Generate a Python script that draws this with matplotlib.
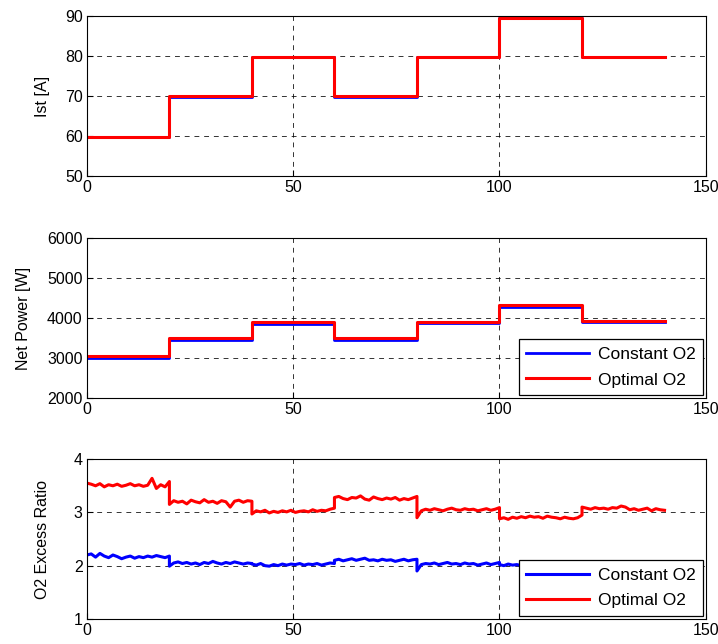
import numpy as np
import matplotlib
matplotlib.use("Agg")
import matplotlib.pyplot as plt

plt.rcParams["font.family"] = ["Liberation Sans", "DejaVu Sans"]

# ── Data ──────────────────────────────────────────────────────────────────
seg_edges = [0, 20, 40, 60, 80, 100, 120, 140]

ist_const = [59.8, 69.8, 79.8, 69.8, 79.8, 89.6, 79.8]
ist_opt = [59.8, 69.9, 79.8, 69.9, 79.8, 89.6, 79.8]

power_const = [3010, 3450, 3860, 3460, 3870, 4270, 3910]
power_opt = [3060, 3490, 3910, 3500, 3910, 4320, 3940]

# O2 excess ratio, ~1 s samples, one list of 20 per 20 s segment
o2_opt_segs = [
    [3.55, 3.53, 3.50, 3.54, 3.48, 3.52, 3.50, 3.53, 3.49, 3.51,
     3.54, 3.50, 3.52, 3.49, 3.51, 3.64, 3.45, 3.52, 3.48, 3.58],
    [3.15, 3.22, 3.19, 3.21, 3.16, 3.23, 3.20, 3.18, 3.24, 3.19,
     3.21, 3.17, 3.22, 3.20, 3.10, 3.21, 3.23, 3.19, 3.22, 3.21],
    [2.97, 3.03, 3.01, 3.04, 2.99, 3.02, 3.00, 3.03, 3.01, 3.04,
     3.00, 3.02, 3.03, 3.01, 3.05, 3.02, 3.04, 3.03, 3.06, 3.08],
    [3.28, 3.30, 3.26, 3.24, 3.28, 3.27, 3.31, 3.25, 3.23, 3.29,
     3.26, 3.24, 3.27, 3.25, 3.28, 3.23, 3.26, 3.24, 3.27, 3.30],
    [2.90, 3.03, 3.06, 3.04, 3.07, 3.05, 3.03, 3.06, 3.08, 3.05,
     3.04, 3.07, 3.05, 3.06, 3.03, 3.05, 3.07, 3.04, 3.06, 3.09],
    [2.88, 2.90, 2.87, 2.91, 2.89, 2.92, 2.90, 2.93, 2.91, 2.92,
     2.89, 2.93, 2.91, 2.90, 2.88, 2.91, 2.89, 2.88, 2.90, 2.95],
    [3.10, 3.08, 3.06, 3.09, 3.07, 3.08, 3.06, 3.09, 3.08, 3.12,
     3.10, 3.05, 3.07, 3.04, 3.06, 3.08, 3.03, 3.07, 3.05, 3.04],
]
o2_const_segs = [
    [2.20, 2.22, 2.16, 2.23, 2.18, 2.15, 2.20, 2.17, 2.13, 2.16,
     2.18, 2.14, 2.17, 2.15, 2.18, 2.16, 2.19, 2.17, 2.15, 2.18],
    [1.99, 2.05, 2.07, 2.04, 2.06, 2.03, 2.05, 2.02, 2.06, 2.04,
     2.08, 2.05, 2.03, 2.06, 2.04, 2.07, 2.05, 2.03, 2.05, 2.04],
    [2.03, 2.01, 2.04, 2.00, 1.99, 2.02, 2.00, 2.03, 2.01, 2.03,
     2.02, 2.04, 2.01, 2.03, 2.02, 2.04, 2.01, 2.03, 2.05, 2.04],
    [2.10, 2.12, 2.09, 2.11, 2.13, 2.10, 2.12, 2.14, 2.10, 2.11,
     2.09, 2.12, 2.10, 2.11, 2.08, 2.10, 2.12, 2.09, 2.11, 2.12],
    [1.90, 2.02, 2.04, 2.03, 2.05, 2.02, 2.04, 2.06, 2.03, 2.04,
     2.02, 2.05, 2.03, 2.04, 2.01, 2.03, 2.05, 2.02, 2.04, 2.06],
    [2.02, 2.00, 2.03, 2.01, 2.02, 2.00, 2.03, 2.01, 2.02, 2.00,
     2.03, 2.01, 2.02, 2.00, 2.03, 2.01, 2.02, 2.00, 2.02, 2.03],
    [2.03, 2.01, 2.04, 2.02, 2.03, 2.01, 2.04, 2.02, 2.03, 2.01,
     2.04, 2.02, 2.03, 2.01, 2.04, 2.02, 2.03, 2.01, 2.03, 2.02],
]


def step_xy(levels):
    x = np.repeat(seg_edges, 2)[1:-1]
    y = np.repeat(levels, 2)
    return x, y


def seg_xy(segs):
    xs, ys = [], []
    for k, vals in enumerate(segs):
        xs.append(np.linspace(seg_edges[k], seg_edges[k + 1], len(vals)))
        ys.append(vals)
    return np.concatenate(xs), np.concatenate(ys)


# ── Figure ────────────────────────────────────────────────────────────────
fig = plt.figure(figsize=(7.18, 6.44), dpi=100)
left, width, height = 0.121, 0.862, 0.248
ax1 = fig.add_axes([left, 0.727, width, height])
ax2 = fig.add_axes([left, 0.382, width, height])
ax3 = fig.add_axes([left, 0.039, width, height])

blue = "#0000ff"
red = "#ff0000"

x, y = step_xy(ist_const)
ax1.plot(x, y, color=blue, lw=2)
x, y = step_xy(ist_opt)
ax1.plot(x, y, color=red, lw=2.2)

x, y = step_xy(power_const)
ax2.plot(x, y, color=blue, lw=2, label="Constant O2")
x, y = step_xy(power_opt)
ax2.plot(x, y, color=red, lw=2.2, label="Optimal O2")

x, y = seg_xy(o2_const_segs)
ax3.plot(x, y, color=blue, lw=2.2, label="Constant O2")
x, y = seg_xy(o2_opt_segs)
ax3.plot(x, y, color=red, lw=2.2, label="Optimal O2")

settings = [
    (ax1, (50, 90), [50, 60, 70, 80, 90], "Ist [A]", -0.060),
    (ax2, (2000, 6000), [2000, 3000, 4000, 5000, 6000], "Net Power [W]", -0.090),
    (ax3, (1, 4), [1, 2, 3, 4], "O2 Excess Ratio", -0.060),
]
for ax, ylim, yticks, ylabel, lab_x in settings:
    ax.set_xlim(0, 150)
    ax.set_ylim(*ylim)
    ax.set_xticks([0, 50, 100, 150])
    ax.set_yticks(yticks)
    ax.set_ylabel(ylabel, fontsize=11.5)
    ax.yaxis.set_label_coords(lab_x, 0.5)
    ax.tick_params(direction="in", length=4, labelsize=11.5, width=0.8, pad=3)
    ax.grid(True, color="black", linestyle=(0, (5, 5)), linewidth=0.7, alpha=0.8)
    ax.set_axisbelow(True)
    for sp in ax.spines.values():
        sp.set_linewidth(0.8)

for ax in (ax2, ax3):
    leg = ax.legend(loc="lower right", fontsize=12.5, frameon=True, fancybox=False,
                    edgecolor="black", framealpha=1, handlelength=3.6,
                    borderaxespad=0.15, borderpad=0.45, labelspacing=0.6,
                    handletextpad=0.5)
    leg.get_frame().set_linewidth(0.9)
    leg.set_zorder(5)

fig.savefig("out.png", dpi=100)
